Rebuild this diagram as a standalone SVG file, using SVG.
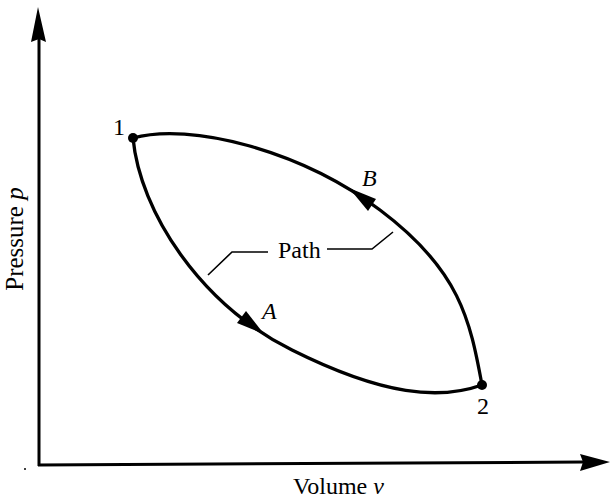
<svg xmlns="http://www.w3.org/2000/svg" width="610" height="499" viewBox="0 0 610 499">
<style>
.ax{stroke:#000;stroke-width:3;fill:none}
.cv{stroke:#000;stroke-width:3.3;fill:none;stroke-linecap:round}
.ld{stroke:#000;stroke-width:1.6;fill:none}
.t{font-family:"Liberation Serif","Times New Roman",serif;font-size:24px;fill:#000}
.i{font-style:italic}
.ah{fill:#000;stroke:none}
</style>
<rect width="610" height="499" fill="#fff"/>
<g id="axes">
<line class="ax" x1="39" y1="466" x2="39" y2="38"/>
<polygon class="ah" points="38,7 46,42 39,39 31,42"/>
<line class="ax" x1="38" y1="465" x2="584" y2="462"/>
<polygon class="ah" points="610,462 580,454 583,462 580,471"/>
<text class="t" x="293" y="494">Volume <tspan class="i">v</tspan></text>
<text class="t" transform="translate(23,239) rotate(-90)" text-anchor="middle" style="font-size:25px">Pressure <tspan class="i">p</tspan></text>
<circle cx="25" cy="469" r="1" fill="#000"/>
</g>
<g id="connectors">
<path id="pathB" class="cv" d="M133,138 C190,122 300,150 380,210 S470,320 482,385"/>
<path id="pathA" class="cv" d="M133,138 C140,212 200,304 292,350 S440,400 482,385"/>
<polygon class="ah" points="349,188 368,211 376,199"/>
<polygon class="ah" points="264,334 237,323 246,311"/>
<polyline class="ld" points="208,275 232,252 268,252"/>
<polyline class="ld" points="327,249 372,249 393,232"/>
</g>
<g id="state1">
<circle cx="133" cy="138" r="5" fill="#000"/>
<text class="t" x="113" y="135">1</text>
</g>
<g id="state2">
<circle cx="482" cy="385" r="5" fill="#000"/>
<text class="t" x="483" y="414" text-anchor="middle">2</text>
</g>
<g id="labelA"><text class="t i" x="262" y="319">A</text></g>
<g id="labelB"><text class="t i" x="362" y="186">B</text></g>
<g id="labelPath"><text class="t" x="278" y="258">Path</text></g>
</svg>
